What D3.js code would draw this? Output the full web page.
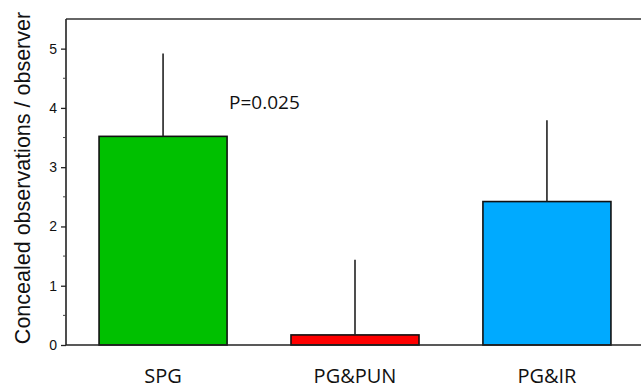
<!DOCTYPE html>
<html>
<head>
<meta charset="utf-8">
<script src="https://cdn.jsdelivr.net/npm/d3@7"></script>
<style>
  body { margin: 0; background: #fff; }
  svg { display: block; }
</style>
</head>
<body>
<div class="graph"></div>
<script>
// chart data
var categories = ['SPG', 'PG&PUN', 'PG&IR'];
var means = [3.52, 0.17, 2.42];
var upper = [4.92, 1.44, 3.79];
var colors = ['#00c000', '#ff0000', '#00aaff'];
var yTicks = [0, 1, 2, 3, 4, 5];
var yMinor = [0.5, 1.5, 2.5, 3.5, 4.5];
var pLabel = 'P=0.025';

var width = 641,
    height = 389;

var x = d3.scaleBand()
    .domain(categories)
    .range([67, 643])
    .paddingInner(0.333)
    .paddingOuter(0.167);

var y = d3.scaleLinear()
    .domain([0, 5.5])
    .range([345, 19]);

var svg = d3.select('.graph').append('svg')
    .attr('width', width)
    .attr('height', height);

// bars
svg.append('g').selectAll('rect')
    .data(categories)
    .enter().append('rect')
    .attr('x', function (d) { return x(d); })
    .attr('y', function (d, i) { return y(means[i]); })
    .attr('width', x.bandwidth())
    .attr('height', function (d, i) { return y(0) - y(means[i]); })
    .style('fill', function (d, i) { return colors[i]; })
    .style('stroke', '#111')
    .style('stroke-width', 1.6);

// error bars (upper only)
svg.append('g').selectAll('line')
    .data(categories)
    .enter().append('line')
    .attr('x1', function (d) { return x(d) + x.bandwidth() / 2; })
    .attr('x2', function (d) { return x(d) + x.bandwidth() / 2; })
    .attr('y1', function (d, i) { return y(means[i]); })
    .attr('y2', function (d, i) { return y(upper[i]); })
    .style('stroke', '#222')
    .style('stroke-width', 1.6);

// frame: top and bottom lines across the width
svg.append('line')
    .attr('x1', 66).attr('x2', width)
    .attr('y1', y(5.5)).attr('y2', y(5.5))
    .style('stroke', '#333').style('stroke-width', 1.6);
svg.append('line')
    .attr('x1', 66).attr('x2', width)
    .attr('y1', y(0)).attr('y2', y(0))
    .style('stroke', '#222').style('stroke-width', 1.6);

// y axis
var yAxis = svg.append('g')
    .attr('transform', 'translate(66,0)')
    .call(d3.axisLeft(y).tickValues(yTicks).tickSize(5).tickPadding(4).tickFormat(d3.format('d')));
yAxis.select('.domain').style('stroke', '#222').style('stroke-width', 1.6)
    .attr('d', 'M0,' + y(5.5) + 'V' + y(0));
yAxis.selectAll('.tick line').style('stroke', '#222').style('stroke-width', 1.3);
yAxis.selectAll('.tick text')
    .style('font-family', 'Liberation Sans, Arial, sans-serif')
    .style('font-size', '14px')
    .style('fill', '#111');

svg.append('g').selectAll('line')
    .data(yMinor)
    .enter().append('line')
    .attr('x1', 63).attr('x2', 66)
    .attr('y1', function (d) { return y(d); })
    .attr('y2', function (d) { return y(d); })
    .style('stroke', '#444').style('stroke-width', 1);

// category labels
svg.append('g').selectAll('text')
    .data(categories)
    .enter().append('text')
    .attr('x', function (d) { return x(d) + x.bandwidth() / 2; })
    .attr('y', 383)
    .attr('text-anchor', 'middle')
    .style('font-family', 'Open Sans, sans-serif')
    .style('font-size', '20px')
    .style('fill', '#111')
    .text(function (d) { return d; });

// y label
svg.append('text')
    .attr('transform', 'translate(30,' + 178 + ') rotate(-90)')
    .attr('text-anchor', 'middle')
    .style('font-family', 'Liberation Sans, Arial, sans-serif')
    .style('font-size', '21.5px')
    .style('fill', '#111')
    .text('Concealed observations / observer');

// significance label
svg.append('text')
    .attr('x', 229)
    .attr('y', 109)
    .style('font-family', 'Open Sans, sans-serif')
    .style('font-size', '19px')
    .style('fill', '#111')
    .text(pLabel);
</script>
</body>
</html>
